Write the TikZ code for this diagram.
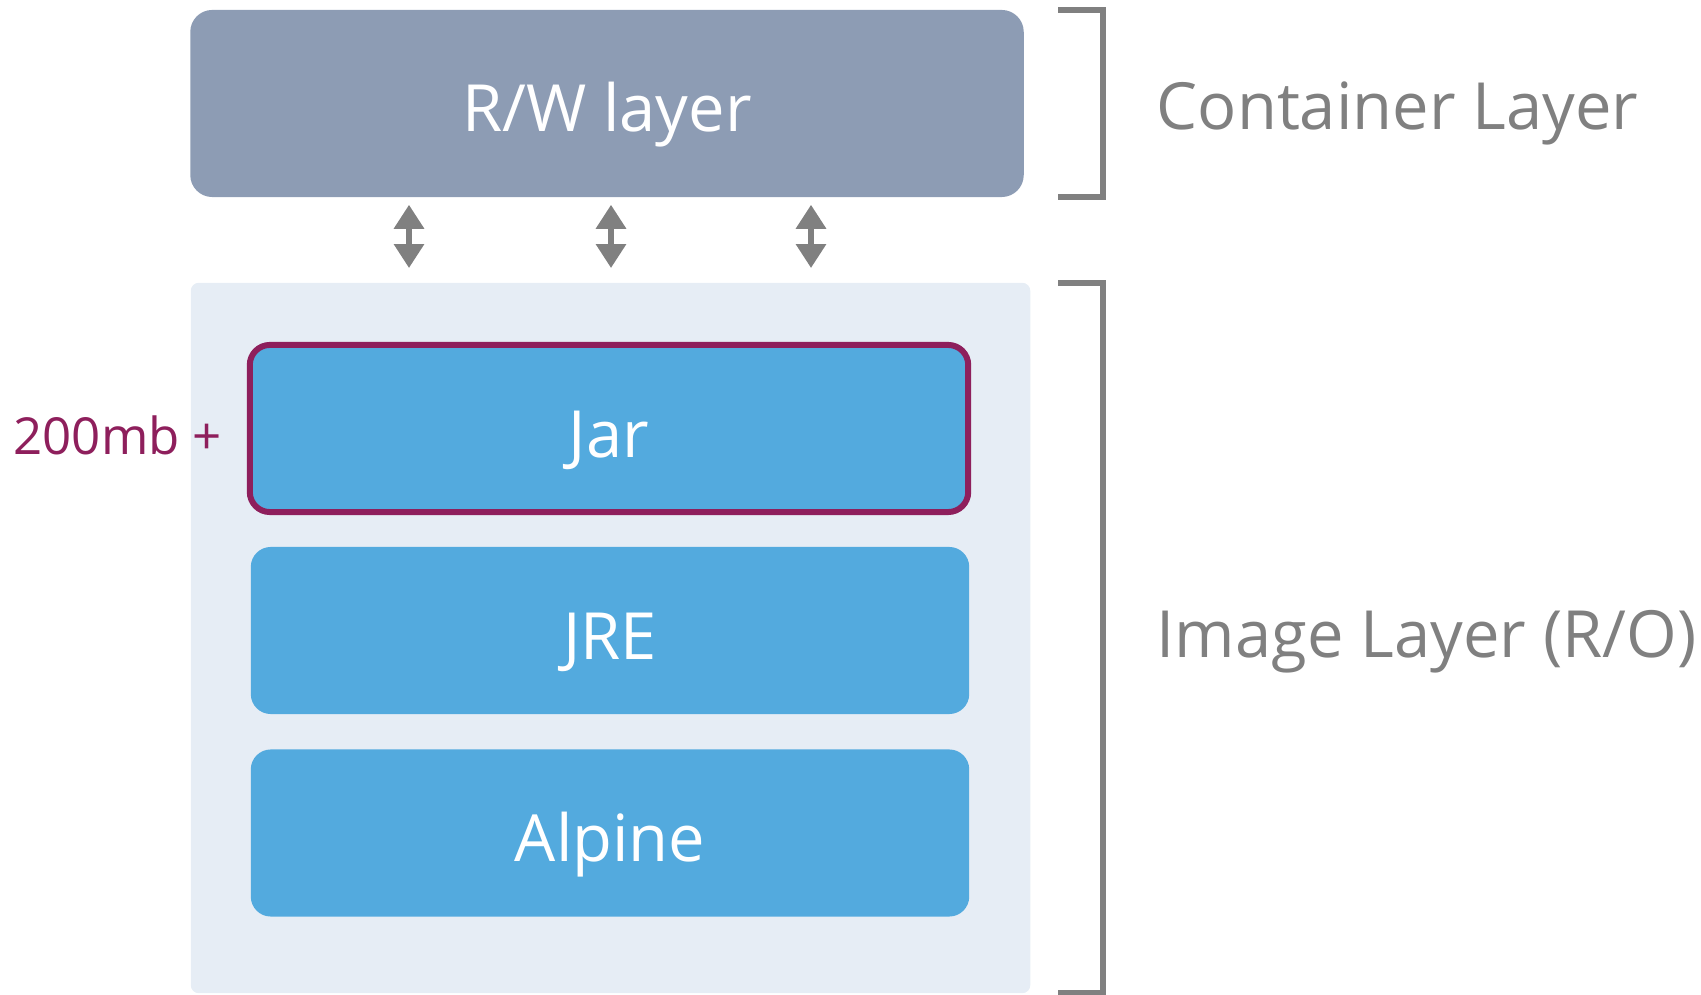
\documentclass[tikz,border=0pt]{standalone}
\usepackage{fontspec}
\setmainfont{Open Sans}
\usetikzlibrary{arrows.meta,positioning}
\definecolor{rwgray}{HTML}{8D9CB4}
\definecolor{imgback}{HTML}{E6EDF5}
\definecolor{layerblue}{HTML}{53AADE}
\definecolor{jarpurple}{HTML}{8E1F5C}
\definecolor{markgray}{HTML}{808080}

\begin{document}
\begin{tikzpicture}[
    x=0.01cm,y=-0.01cm,
    bigfont/.style={font=\fontsize{18.5}{22}\selectfont},
    layer/.style={rectangle,rounded corners=0.2cm,fill=layerblue,text=white,
        bigfont,text height=0.57cm,text depth=0pt,
        minimum width=7.18cm,minimum height=1.67cm,inner sep=0pt},
    jarlayer/.style={layer,draw=jarpurple,line width=1.7pt},
    bracket/.style={draw=markgray,line width=1.5pt},
    sidetext/.style={bigfont,text=markgray,anchor=base west,inner sep=0pt},
    updown/.style={{Triangle[width=0.29cm,length=0.24cm]}-{Triangle[width=0.29cm,length=0.24cm]},
        draw=markgray,fill=markgray,line width=0.065cm,
        shorten <=0.07cm,shorten >=0.14cm}
  ]

    \useasboundingbox (0,0) rectangle (1701,995);

    % container part
    \node (rwbox) [rectangle,rounded corners=0.22cm,fill=rwgray,text=white,
        bigfont,text height=0.55cm,text depth=0pt,inner sep=0pt,
        minimum width=8.33cm,minimum height=1.87cm] at (607,103.5) {R/W layer};

    % image part
    \node (imgbg) [rectangle,rounded corners=0.08cm,fill=imgback,
        minimum width=8.39cm,minimum height=7.1cm] at (610.5,638) {};
    \node (jar)    [jarlayer] at (609,428.5) {Jar};
    \node (jre)    [layer]    at (610,630.5) {JRE};
    \node (alpine) [layer]    at (610,833)   {Alpine};
    \node (extra) [left=0.24cm of jar,yshift=-0.07cm,text=jarpurple,inner sep=0pt,
        font=\fontsize{14.5}{17}\selectfont] {200mb +};

    \foreach \dx in {-198,4,204}
        \draw[updown] ([xshift=\dx*0.01cm]rwbox.south) -- ([xshift=\dx*0.01cm]rwbox.south |- imgbg.north);

    % brackets
    \coordinate (ctop) at (1058,10);
    \coordinate (cbot) at (1058,197);
    \coordinate (itop) at (1058,283);
    \coordinate (ibot) at (1058,993);
    \draw[bracket] (ctop) -- ++(45,0) |- (cbot);
    \draw[bracket] (itop) -- ++(45,0) |- (ibot);

    \node (contlabel) [sidetext] at (1156,130) {Container Layer};
    \node (imglabel)  [sidetext] at (1156,657) {Image Layer (R/O)};
\end{tikzpicture}
\end{document}
